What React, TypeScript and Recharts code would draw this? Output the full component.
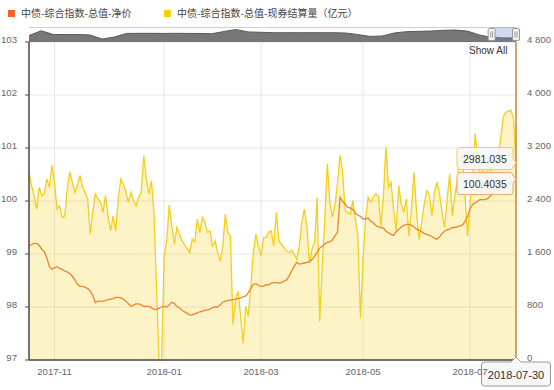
import {
  ComposedChart,
  AreaChart,
  Line,
  Area,
  XAxis,
  YAxis,
  CartesianGrid,
  ReferenceLine,
  ReferenceDot,
  ReferenceArea,
} from 'recharts';

// 中债-综合指数-总值-净价, one value per trading day (2017-10 .. 2018-07-30)
const netPrice = [
  99.15, 99.18, 99.2, 99.2, 99.16, 99.09, 99.04, 98.93, 98.76, 98.71,
  98.74, 98.76, 98.73, 98.71, 98.68, 98.66, 98.63, 98.58, 98.51, 98.43,
  98.39, 98.39, 98.37, 98.35, 98.3, 98.22, 98.08, 98.11, 98.11, 98.11,
  98.12, 98.14, 98.15, 98.16, 98.18, 98.18, 98.17, 98.15, 98.11, 98.06,
  98.01, 98.04, 98.06, 98.06, 98.04, 98.01, 98.01, 98.01, 97.99,
  97.95, 97.96, 97.98, 98.0, 98.01, 98.0, 98.04, 98.09, 98.07, 98.01,
  97.98, 97.94, 97.91, 97.88, 97.85, 97.85, 97.87, 97.89, 97.91, 97.92,
  97.94, 97.94, 97.96, 97.99, 98.0, 98.0, 98.04, 98.09, 98.11, 98.12,
  98.13, 98.14, 98.15, 98.16, 98.17, 98.19, 98.21, 98.27, 98.35, 98.43,
  98.44, 98.41, 98.39, 98.39, 98.42,
  98.42, 98.45, 98.46, 98.46, 98.45, 98.46, 98.49, 98.51, 98.58, 98.68,
  98.77, 98.84, 98.81, 98.82, 98.83, 98.84, 98.85, 98.9, 98.96, 99.03,
  99.11, 99.15, 99.19, 99.22, 99.23, 99.27, 99.34, 99.41, 100.07, 99.99,
  99.94, 99.88, 99.87, 99.84, 99.77, 99.73, 99.71, 99.66, 99.66, 99.68,
  99.62, 99.59, 99.54, 99.51, 99.5, 99.49, 99.43, 99.4, 99.37, 99.35,
  99.42, 99.46, 99.51, 99.54, 99.56, 99.56, 99.54, 99.51, 99.47, 99.45,
  99.42, 99.39, 99.37, 99.35, 99.33, 99.3, 99.28, 99.32, 99.39, 99.43,
  99.46, 99.47, 99.5, 99.5, 99.51, 99.53, 99.55, 99.61, 99.71, 99.85,
  99.94, 99.96, 100.0, 100.03, 100.02, 100.03, 100.05, 100.1, 100.15, 100.2,
  100.23, 100.26, 100.28, 100.3, 100.32, 100.35, 100.37, 100.4035,
];

// 中债-综合指数-总值-现券结算量（亿元）
const settleVolume = [
  2835, 2633, 2481, 2278, 2607, 2481, 2506, 2734, 2607, 2937,
  2683, 2278, 2329, 2152, 2177, 2582, 2835, 2683, 2532, 2633,
  2785, 2607, 2532, 2430, 1899, 2228, 2506, 2430, 2380, 2228,
  2481, 2177, 1949, 2177, 1949, 2430, 2734, 2658, 2532, 2380,
  2532, 2405, 2329, 2456, 2532, 3088, 2734, 2506, 2709,
  2228, 1114, 0, 0, 1570, 1797, 2339, 2025, 1747, 2000,
  1899, 1797, 1737, 1686, 1620, 1823, 1782, 2126, 1924, 2152,
  2076, 1924, 1949, 1721, 1797, 1620, 1494, 1721, 2202, 1924,
  1873, 532, 911, 1038, 658, 253, 810, 658, 1114, 1620,
  1899, 1721, 1570, 1848, 1848,
  1924, 1949, 1721, 2228, 1797, 1747, 1696, 1645, 1620, 1661,
  1595, 1519, 1721, 2076, 2278, 2025, 1468, 1671, 1772, 2456,
  582, 1418, 2126, 2962, 2380, 2152, 2329, 2683, 3088, 2835,
  2253, 2228, 2202, 2405, 2126, 1873, 633, 1519, 2126, 2456,
  2380, 2456, 2506, 2481, 2025, 2481, 3215, 2607, 2683, 2278,
  1949, 2633, 2354, 2228, 2430, 1873, 2278, 2835, 2228, 1823,
  2076, 2354, 2557, 2506, 2177, 2532, 2683, 2506, 2228, 2000,
  2430, 2810, 2177, 2481, 2709, 3063, 3063, 2481, 1873, 2380,
  2734, 3418, 3038, 2785, 2886, 2759, 2937, 2861, 2987, 2911,
  3088, 3342, 3671, 3737, 3757, 3772, 3645, 2981.035,
];

const monthTickIdx = [10, 53, 91, 131, 173];
const monthLabels = ['2017-11', '2018-01', '2018-03', '2018-05', '2018-07'];
const lastDate = '2018-07-30';
const leftTicks = [97, 98, 99, 100, 101, 102, 103];
const rightTicks = [0, 800, 1600, 2400, 3200, 4000, 4800];

// navigator overview of the net price
const navHistory = [
  94.3, 97.5, 95.0, 95.0, 95.0, 94.7, 92.0, 93.3, 95.7, 95.8,
  95.8, 95.7, 95.8, 95.7, 95.7, 95.5, 97.0, 98.3, 96.7, 96.5,
  96.2, 96.2, 96.2, 96.2, 96.2, 96.2, 96.0, 95.0, 93.7, 94.0,
  96.0, 96.9, 97.1, 97.3, 97.8, 98.0, 97.3, 94.7, 93.0, 92.7, 92.7,
];
const navRange = [38, 40];

const seriesNames = ['中债-综合指数-总值-净价', '中债-综合指数-总值-现券结算量（亿元）'];

const ORANGE = '#f26522';
const ORANGE_LINE = '#ec8530';
const YELLOW = '#f5cf1a';
const AXIS = '#4a4a4a';
const FONT = '"Liberation Sans", Arial, sans-serif';
const CJK = '"Noto Sans CJK SC", sans-serif';

const data = netPrice.map((p, i) => ({ i, price: p, vol: settleVolume[i] }));
const navData = navHistory.map((v, i) => ({ i, v }));
const last = data.length - 1;

const fmtThousands = (v: number) =>
  v >= 1000 ? `${Math.floor(v / 1000)} ${String(v % 1000).padStart(3, '0')}` : String(v);

const LeftTick = (props: any) => (
  <text x={props.x} y={props.y + 0.5} textAnchor="end" fontSize={9.6} fill="#666" fontFamily={FONT}>
    {props.payload.value}
  </text>
);

const RightTick = (props: any) => (
  <text x={props.x} y={props.y + 0.5} textAnchor="start" fontSize={9.6} fill="#666" fontFamily={FONT}>
    {fmtThousands(props.payload.value)}
  </text>
);

const XTick = (props: any) => {
  const k = monthTickIdx.indexOf(props.payload.value);
  return (
    <text x={props.x} y={props.y + 15} textAnchor="middle" fontSize={9.6} fill="#666" fontFamily={FONT}>
      {monthLabels[k]}
    </text>
  );
};

function valueTag(text: string, color: string, up: number) {
  return (p: any) => {
    const cx = p.cx;
    const cy = p.cy;
    const R = cx - 3;
    const W = 56;
    const H = 22;
    const r = 3;
    const L = R - W;
    const T = cy - up;
    const B = T + H;
    const d = `M${L + r},${T} H${R - r} Q${R},${T} ${R},${T + r} V${cy - 4} L${cx},${cy} L${R},${cy + 4} V${B - r} Q${R},${B} ${R - r},${B} H${L + r} Q${L},${B} ${L},${B - r} V${T + r} Q${L},${T} ${L + r},${T} Z`;
    return (
      <g>
        <path d={d} fill="rgba(247,247,247,0.9)" stroke={color} strokeWidth={1} />
        <text x={L + 6} y={T + 15} fontSize={10.5} fill="#333" fontFamily={FONT}>
          {text}
        </text>
      </g>
    );
  };
}

const dateTag = (p: any) => {
  const cx = p.cx;
  const T = p.cy + 2;
  const B = T + 24;
  const L = cx - 34.5;
  const R = cx + 34.5;
  const r = 3;
  const d = `M${L + r},${T} H${cx - 5} L${cx},${T - 5} L${cx + 5},${T} H${R - r} Q${R},${T} ${R},${T + r} V${B - r} Q${R},${B} ${R - r},${B} H${L + r} Q${L},${B} ${L},${B - r} V${T + r} Q${L},${T} ${L + r},${T} Z`;
  return (
    <g>
      <path d={d} fill="#f7f7f7" stroke="#999" strokeWidth={1} />
      <text x={cx} y={T + 16.5} textAnchor="middle" fontSize={11} fill="#333" fontFamily={FONT}>
        {lastDate}
      </text>
    </g>
  );
};

const navHandle = (p: any) => (
  <g>
    <rect x={p.cx - 3.5} y={p.cy - 6} width={7} height={12} rx={1.5} fill="#f2f2f2" stroke="#999" strokeWidth={1} />
    <line x1={p.cx - 1} y1={p.cy - 3} x2={p.cx - 1} y2={p.cy + 3} stroke="#999" />
    <line x1={p.cx + 1} y1={p.cy - 3} x2={p.cx + 1} y2={p.cy + 3} stroke="#999" />
  </g>
);

function Legend() {
  const item = (color: string, label: string, left: number) => (
    <div style={{ position: 'absolute', left, top: 6, display: 'flex', alignItems: 'center' }}>
      <span style={{ width: 7, height: 7, background: color, display: 'inline-block', marginRight: 6 }} />
      <span style={{ fontFamily: CJK, fontSize: 10, color: '#444', lineHeight: '14px' }}>{label}</span>
    </div>
  );
  return (
    <>
      {item(ORANGE, seriesNames[0], 8)}
      {item(YELLOW, seriesNames[1], 164)}
    </>
  );
}

export default function App() {
  return (
    <div style={{ position: 'fixed', left: 0, top: 0, width: 554, height: 390, background: '#fff', overflow: 'hidden' }}>
      <div style={{ position: 'absolute', left: 0, top: 0 }}>
        <ComposedChart width={554} height={390} data={data} margin={{ top: 42, right: 0, bottom: 0, left: 0 }}>
          <CartesianGrid yAxisId="left" stroke="#e6e6e6" />
          <XAxis
            dataKey="i"
            type="number"
            domain={[0, last]}
            ticks={monthTickIdx}
            interval={0}
            height={30}
            tickSize={0}
            tickMargin={0}
            tickLine={false}
            axisLine={{ stroke: AXIS, strokeWidth: 1.5 }}
            tick={<XTick />}
          />
          <YAxis
            yAxisId="left"
            domain={[97, 103]}
            ticks={leftTicks}
            interval={0}
            width={29}
            tickSize={4}
            tickMargin={8}
            axisLine={{ stroke: AXIS, strokeWidth: 1.5 }}
            tickLine={{ stroke: AXIS }}
            tick={<LeftTick />}
          />
          <YAxis
            yAxisId="right"
            orientation="right"
            domain={[0, 4800]}
            ticks={rightTicks}
            interval={0}
            width={38}
            tickSize={0}
            tickMargin={11}
            axisLine={false}
            tickLine={false}
            tick={<RightTick />}
          />
          <Line
            yAxisId="left"
            dataKey="price"
            type="linear"
            stroke={ORANGE_LINE}
            strokeWidth={1.3}
            dot={false}
            activeDot={false}
            isAnimationActive={false}
          />
          <Area
            yAxisId="right"
            dataKey="vol"
            type="linear"
            stroke={YELLOW}
            strokeWidth={1.3}
            fill={YELLOW}
            fillOpacity={0.25}
            dot={false}
            activeDot={false}
            isAnimationActive={false}
          />
          <ReferenceLine yAxisId="left" x={last} stroke="#c98a3c" strokeWidth={1.5} />
          <ReferenceDot
            yAxisId="right"
            x={last}
            y={settleVolume[last]}
            r={0}
            ifOverflow="visible"
            shape={valueTag(String(settleVolume[last]), '#f3cd5a', 15)}
          />
          <ReferenceDot
            yAxisId="left"
            x={last}
            y={netPrice[last]}
            r={0}
            ifOverflow="visible"
            shape={valueTag(String(netPrice[last]), '#f2a36a', 7)}
          />
          <ReferenceDot yAxisId="left" x={last} y={97} r={0} ifOverflow="visible" shape={dateTag} />
        </ComposedChart>
      </div>

      <div style={{ position: 'absolute', left: 29, top: 27, width: 487, borderTop: '1px solid #d0d0d0' }} />
      <div style={{ position: 'absolute', left: 0, top: 25 }}>
        <AreaChart width={554} height={19} data={navData} margin={{ top: 2, right: 38, bottom: 2, left: 29 }}>
          <XAxis dataKey="i" type="number" domain={[0, navData.length - 1]} hide />
          <YAxis domain={[90, 100]} hide />
          <Area
            dataKey="v"
            type="linear"
            stroke="#5a5a5a"
            strokeWidth={1}
            fill="#777"
            fillOpacity={1}
            dot={false}
            activeDot={false}
            isAnimationActive={false}
          />
          <ReferenceArea x1={navRange[0]} x2={navRange[1]} fill="rgb(102,133,194)" fillOpacity={0.3} ifOverflow="visible" />
          <ReferenceDot x={navRange[0]} y={95} r={0} ifOverflow="visible" shape={navHandle} />
          <ReferenceDot x={navRange[1]} y={95} r={0} ifOverflow="visible" shape={navHandle} />
        </AreaChart>
      </div>

      <div style={{ position: 'absolute', left: 469, top: 45, fontFamily: FONT, fontSize: 10, color: '#333' }}>
        Show All
      </div>

      <Legend />
    </div>
  );
}
